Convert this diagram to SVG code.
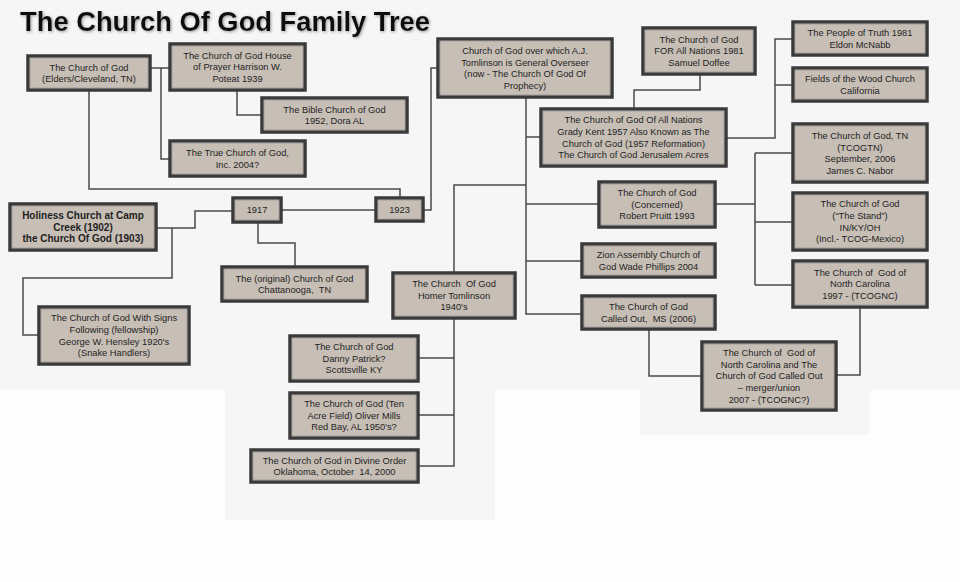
<svg xmlns="http://www.w3.org/2000/svg" width="960" height="582" viewBox="0 0 960 582">
<defs>
<style>
.b{fill:#c7beb6;stroke:#3a3a3a;stroke-width:3.5}
.i{fill:none;stroke:#9c9a98;stroke-width:0.8}
.t{font-family:"Liberation Sans",Arial,sans-serif;font-size:9.3px;fill:#1e1e1e;text-anchor:middle}
.bt{font-family:"Liberation Sans",Arial,sans-serif;font-size:10px;font-weight:bold;fill:#1e1e1e;text-anchor:middle}
.c{fill:none;stroke:#4a4a4a;stroke-width:1.5}
.bg{fill:#f6f6f6}
</style>
<filter id="sh" x="-5%" y="-30%" width="110%" height="160%">
<feGaussianBlur in="SourceAlpha" stdDeviation="1.6" result="bl"/>
<feOffset in="bl" dx="1" dy="1" result="of"/>
<feFlood flood-color="#9a9a9a"/>
<feComposite in2="of" operator="in" result="s"/>
<feMerge><feMergeNode in="s"/><feMergeNode in="SourceGraphic"/></feMerge>
</filter>
</defs>
<rect x="0" y="0" width="960" height="582" fill="#fdfdfd"/>
<rect class="bg" x="0" y="0" width="960" height="390"/>
<rect class="bg" x="225" y="385" width="270" height="135"/>
<rect class="bg" x="640" y="385" width="230" height="50"/>
<text x="20" y="31" font-family="'Liberation Sans',Arial,sans-serif" font-size="28" font-weight="bold" fill="#0a0a0a" textLength="410" lengthAdjust="spacingAndGlyphs" filter="url(#sh)">The Church Of God Family Tree</text>

<g id="connectors">
<path class="c" d="M150,68 H170 M161,68 V159 H170"/>
<path class="c" d="M237,90 V115 H262"/>
<path class="c" d="M89,90 V189 H400 V198"/>
<path class="c" d="M423,210 H431 V68 H438"/>
<path class="c" d="M281,210 H376"/>
<path class="c" d="M156,228 H195 V211 H233"/>
<path class="c" d="M172,228 V278 H23 V335 H39"/>
<path class="c" d="M258,222 V243 H295 V267"/>
<path class="c" d="M526,97 V314 H582 M526,137 H541 M526,204 H599 M526,261 H582 M526,185 H454 V273"/>
<path class="c" d="M700,74 V90 H634 V109"/>
<path class="c" d="M726,138 H775 V39 H793 M775,85 H793"/>
<path class="c" d="M715,204 H755 M755,153 V285 M755,153 H793 M755,222 H793 M755,285 H793"/>
<path class="c" d="M860,307 V375 H836"/>
<path class="c" d="M649,329 V376 H702"/>
<path class="c" d="M454,318 V466 H418 M454,358 H418 M454,415 H418"/>
</g>

<g id="elders"><rect class="b" x="28" y="56" width="122" height="34"/><rect class="i" x="30" y="58" width="118" height="30"/>
<text class="t" x="89" y="70.5">The Church of God</text><text class="t" x="89" y="82.1">(Elders/Cleveland, TN)</text></g>

<g id="house"><rect class="b" x="170" y="44" width="135" height="46"/><rect class="i" x="172" y="46" width="131" height="42"/>
<text class="t" x="237.5" y="58.7">The Church of God House</text><text class="t" x="237.5" y="70.3">of Prayer Harrison W.</text><text class="t" x="237.5" y="81.9">Poteat 1939</text></g>

<g id="bible"><rect class="b" x="262" y="98" width="145" height="34"/><rect class="i" x="264" y="100" width="141" height="30"/>
<text class="t" x="334.5" y="112.5">The Bible Church of God</text><text class="t" x="334.5" y="124.1">1952, Dora AL</text></g>

<g id="truechurch"><rect class="b" x="170" y="141" width="135" height="35"/><rect class="i" x="172" y="143" width="131" height="31"/>
<text class="t" x="237.5" y="156">The True Church of God,</text><text class="t" x="237.5" y="167.6">Inc. 2004?</text></g>

<g id="holiness"><rect class="b" x="10" y="204" width="146" height="46"/><rect class="i" x="12" y="206" width="142" height="42"/>
<text class="bt" x="83" y="219.2">Holiness Church at Camp</text><text class="bt" x="83" y="230.7">Creek (1902)</text><text class="bt" x="83" y="242.2">the Church Of God (1903)</text></g>

<g id="y1917"><rect class="b" x="233" y="198" width="48" height="24"/><rect class="i" x="235" y="200" width="44" height="20"/>
<text class="t" x="257" y="213.3">1917</text></g>

<g id="y1923"><rect class="b" x="376" y="198" width="47" height="23"/><rect class="i" x="378" y="200" width="43" height="19"/>
<text class="t" x="399.5" y="212.8">1923</text></g>

<g id="original"><rect class="b" x="222" y="267" width="145" height="34"/><rect class="i" x="224" y="269" width="141" height="30"/>
<text class="t" x="294.5" y="281.5">The (original) Church of God</text><text class="t" x="294.5" y="293.1" xml:space="preserve">Chattanooga,  TN</text></g>

<g id="signs"><rect class="b" x="39" y="307" width="150" height="57"/><rect class="i" x="41" y="309" width="146" height="53"/>
<text class="t" x="114" y="321.4">The Church of God With Signs</text><text class="t" x="114" y="333">Following (fellowship)</text><text class="t" x="114" y="344.6">George W. Hensley 1920's</text><text class="t" x="114" y="356.2">(Snake Handlers)</text></g>

<g id="tomlinson"><rect class="b" x="438" y="39" width="174" height="58"/><rect class="i" x="440" y="41" width="170" height="54"/>
<text class="t" x="525" y="54">Church of God over which A.J.</text><text class="t" x="525" y="65.6">Tomlinson is General Overseer</text><text class="t" x="525" y="77.2">(now - The Church Of God Of</text><text class="t" x="525" y="88.8">Prophecy)</text></g>

<g id="nations1981"><rect class="b" x="643" y="28" width="112" height="46"/><rect class="i" x="645" y="30" width="108" height="42"/>
<text class="t" x="699" y="42.7">The Church of God</text><text class="t" x="699" y="54.3">FOR All Nations 1981</text><text class="t" x="699" y="65.9">Samuel Doffee</text></g>

<g id="nations1957"><rect class="b" x="541" y="109" width="185" height="57"/><rect class="i" x="543" y="111" width="181" height="53"/>
<text class="t" x="633.5" y="123.4">The Church of God Of All Nations</text><text class="t" x="633.5" y="135">Grady Kent 1957 Also Known as The</text><text class="t" x="633.5" y="146.6">Church of God (1957 Reformation)</text><text class="t" x="633.5" y="158.2">The Church of God Jerusalem Acres</text></g>

<g id="truth"><rect class="b" x="793" y="22" width="134" height="33"/><rect class="i" x="795" y="24" width="130" height="29"/>
<text class="t" x="860" y="36">The People of Truth 1981</text><text class="t" x="860" y="47.6">Eldon McNabb</text></g>

<g id="fields"><rect class="b" x="793" y="68" width="134" height="33"/><rect class="i" x="795" y="70" width="130" height="29"/>
<text class="t" x="860" y="82">Fields of the Wood Church</text><text class="t" x="860" y="93.6">California</text></g>

<g id="tcogtn"><rect class="b" x="793" y="124" width="134" height="58"/><rect class="i" x="795" y="126" width="130" height="54"/>
<text class="t" x="860" y="138.9">The Church of God, TN</text><text class="t" x="860" y="150.5">(TCOGTN)</text><text class="t" x="860" y="162.1">September, 2006</text><text class="t" x="860" y="173.7">James C. Nabor</text></g>

<g id="stand"><rect class="b" x="793" y="193" width="134" height="57"/><rect class="i" x="795" y="195" width="130" height="53"/>
<text class="t" x="860" y="207.4">The Church of God</text><text class="t" x="860" y="219">(“The Stand”)</text><text class="t" x="860" y="230.6">IN/KY/OH</text><text class="t" x="860" y="242.2">(Incl.- TCOG-Mexico)</text></g>

<g id="nc"><rect class="b" x="793" y="261" width="134" height="46"/><rect class="i" x="795" y="263" width="130" height="42"/>
<text class="t" x="860" y="275.7" xml:space="preserve">The Church of  God of</text><text class="t" x="860" y="287.3">North Carolina</text><text class="t" x="860" y="298.9">1997 - (TCOGNC)</text></g>

<g id="concerned"><rect class="b" x="599" y="182" width="116" height="45"/><rect class="i" x="601" y="184" width="112" height="41"/>
<text class="t" x="657" y="196.2">The Church of God</text><text class="t" x="657" y="207.8">(Concerned)</text><text class="t" x="657" y="219.4">Robert Pruitt 1993</text></g>

<g id="zion"><rect class="b" x="582" y="244" width="133" height="33"/><rect class="i" x="584" y="246" width="129" height="29"/>
<text class="t" x="648.5" y="258">Zion Assembly Church of</text><text class="t" x="648.5" y="269.6">God Wade Phillips 2004</text></g>

<g id="calledout"><rect class="b" x="582" y="296" width="133" height="33"/><rect class="i" x="584" y="298" width="129" height="29"/>
<text class="t" x="648.5" y="310">The Church of God</text><text class="t" x="648.5" y="321.6" xml:space="preserve">Called Out,  MS (2006)</text></g>

<g id="merger"><rect class="b" x="702" y="342" width="134" height="68"/><rect class="i" x="704" y="344" width="130" height="64"/>
<text class="t" x="769" y="356.1" xml:space="preserve">The Church of  God of</text><text class="t" x="769" y="367.7">North Carolina and The</text><text class="t" x="769" y="379.3">Church of God Called Out</text><text class="t" x="769" y="390.9">– merger/union</text><text class="t" x="769" y="402.5">2007 - (TCOGNC?)</text></g>

<g id="homer"><rect class="b" x="393" y="273" width="122" height="45"/><rect class="i" x="395" y="275" width="118" height="41"/>
<text class="t" x="454" y="287.2" xml:space="preserve">The Church  Of God</text><text class="t" x="454" y="298.8">Homer Tomlinson</text><text class="t" x="454" y="310.4">1940's</text></g>

<g id="danny"><rect class="b" x="290" y="336" width="128" height="45"/><rect class="i" x="292" y="338" width="124" height="41"/>
<text class="t" x="354" y="350.2">The Church of God</text><text class="t" x="354" y="361.8">Danny Patrick?</text><text class="t" x="354" y="373.4">Scottsville KY</text></g>

<g id="tenacre"><rect class="b" x="290" y="393" width="128" height="45"/><rect class="i" x="292" y="395" width="124" height="41"/>
<text class="t" x="354" y="407.2">The Church of God (Ten</text><text class="t" x="354" y="418.8">Acre Field) Oliver Mills</text><text class="t" x="354" y="430.4">Red Bay, AL 1950's?</text></g>

<g id="divine"><rect class="b" x="251" y="450" width="167" height="32"/><rect class="i" x="253" y="452" width="163" height="28"/>
<text class="t" x="334.5" y="463.5">The Church of God in Divine Order</text><text class="t" x="334.5" y="475.1" xml:space="preserve">Oklahoma, October  14, 2000</text></g>
</svg>
